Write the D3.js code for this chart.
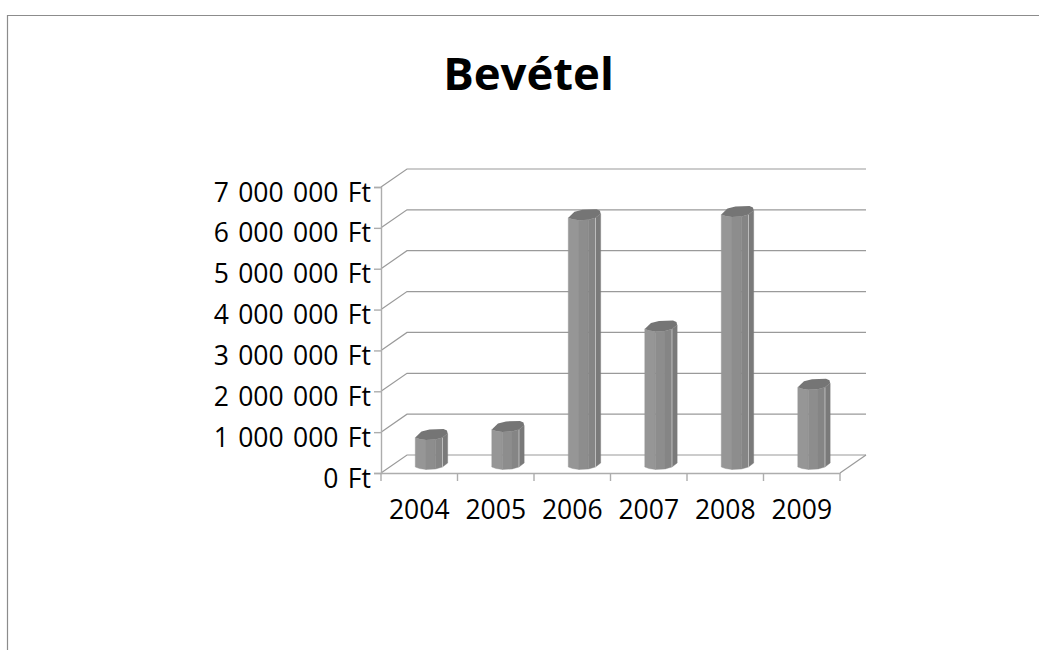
<!DOCTYPE html>
<html><head><meta charset="utf-8">
<script src="https://cdn.jsdelivr.net/npm/d3@7"></script>
<style>html,body{margin:0;padding:0;background:#fff}svg{display:block}text{font-family:"Open Sans",Lato,sans-serif;fill:#000}</style>
</head><body><svg id="c" width="1039" height="650"></svg>
<script>
const titleText="Bevétel";
const years=["2004","2005","2006","2007","2008","2009"];
const revenue=[720000,920000,6100000,3380000,6180000,1950000];
const yTicks=[0,1000000,2000000,3000000,4000000,5000000,6000000,7000000];
const yTickLabels=["0 Ft","1 000 000 Ft","2 000 000 Ft","3 000 000 Ft","4 000 000 Ft","5 000 000 Ft","6 000 000 Ft","7 000 000 Ft"];

const svg=d3.select("#c");
const dx=26,dy=-18;
const x=d3.scaleBand().domain(years).range([381,840]);
const y=d3.scaleLinear().domain([0,7000000]).range([473,187]);
const gridColor="#9a9a9a",axisColor="#adadad";

svg.append("path").attr("d","M7.5,650V15.5H1039").attr("fill","none").attr("stroke","#8c8c8c").attr("stroke-width",1.2);

const grid=svg.append("g").attr("fill","none").attr("stroke",gridColor).attr("stroke-width",1.2);
yTicks.forEach(v=>{
  const p=d3.path();
  p.moveTo(x.range()[0],y(v));p.lineTo(x.range()[0]+dx,y(v)+dy);p.lineTo(x.range()[1]+dx,y(v)+dy);
  grid.append("path").attr("d",p.toString());
});
svg.append("path").attr("d",`M${x.range()[1]},${y(0)}L${x.range()[1]+dx},${y(0)+dy}`).attr("fill","none").attr("stroke",gridColor).attr("stroke-width",1.2);

const ax=svg.append("g").attr("transform","translate(381,0)")
 .call(d3.axisLeft(y).tickValues(yTicks).tickSize(7).tickPadding(3).tickFormat((d,i)=>yTickLabels[i]));
const bx=svg.append("g").attr("transform","translate(0,473)")
 .call(d3.axisBottom(x).tickSize(0).tickPadding(27));
[ax,bx].forEach(g=>{g.selectAll("line,path").attr("stroke",axisColor).attr("stroke-width",1.4);g.selectAll("text").style("font-size","26.5px").attr("fill","#000");});
ax.selectAll("text").attr("dy","0.68em").attr("y",-4).style("word-spacing","2.5px");
bx.selectAll("text").attr("dy","0.71em");
const edges=years.map(d=>x(d)).concat(x.range()[1]);
svg.append("g").selectAll("line").data(edges).join("line")
 .attr("x1",d=>d).attr("x2",d=>d).attr("y1",473).attr("y2",481).attr("stroke",axisColor).attr("stroke-width",1.4);

const rim=[[-16.2,3],[-12,4.5],[-5.5,5.5],[4,5],[11,3],[16.2,-1]];
const backRim=[[16.2,-1],[15.5,-4],[12,-5.5],[-2,-5],[-10,-3],[-16.2,3]];
const faces=[[0,2,"#969696"],[2,3,"#8d8d8d"],[3,4,"#858585"],[4,5,"#7a7a7a"]];
const barG=svg.append("g");
years.forEach((yr,i)=>{
  const cx=x(yr)+x.bandwidth()/2+dx*0.47;
  const top=y(revenue[i])+dy/2, base=y(0)+dy/2;
  const g=barG.append("g");
  faces.forEach(([a,b,col])=>{
    const seg=rim.slice(a,b+1);
    const p=d3.path();
    seg.forEach((s,j)=>{j?p.lineTo(cx+s[0],top+s[1]):p.moveTo(cx+s[0],top+s[1]);});
    seg.slice().reverse().forEach(s=>p.lineTo(cx+s[0],base+s[1]));
    p.closePath();
    g.append("path").attr("d",p.toString()).attr("fill",col).attr("stroke",col).attr("stroke-width",.4);
  });
  g.append("line").attr("x1",cx+rim[4][0]).attr("x2",cx+rim[4][0]).attr("y1",top+rim[4][1]).attr("y2",base+rim[4][1]).attr("stroke","#c4c4c4").attr("stroke-width",.9);
  const cap=d3.path();
  rim.concat(backRim).forEach((s,j)=>{j?cap.lineTo(cx+s[0],top+s[1]):cap.moveTo(cx+s[0],top+s[1]);});
  cap.closePath();
  g.append("path").attr("d",cap.toString()).attr("fill","#757575");
});

svg.append("text").attr("x",528.5).attr("y",90).attr("text-anchor","middle")
 .style("font-size","45.5px").style("font-weight","700").text(titleText);
</script></body></html>
